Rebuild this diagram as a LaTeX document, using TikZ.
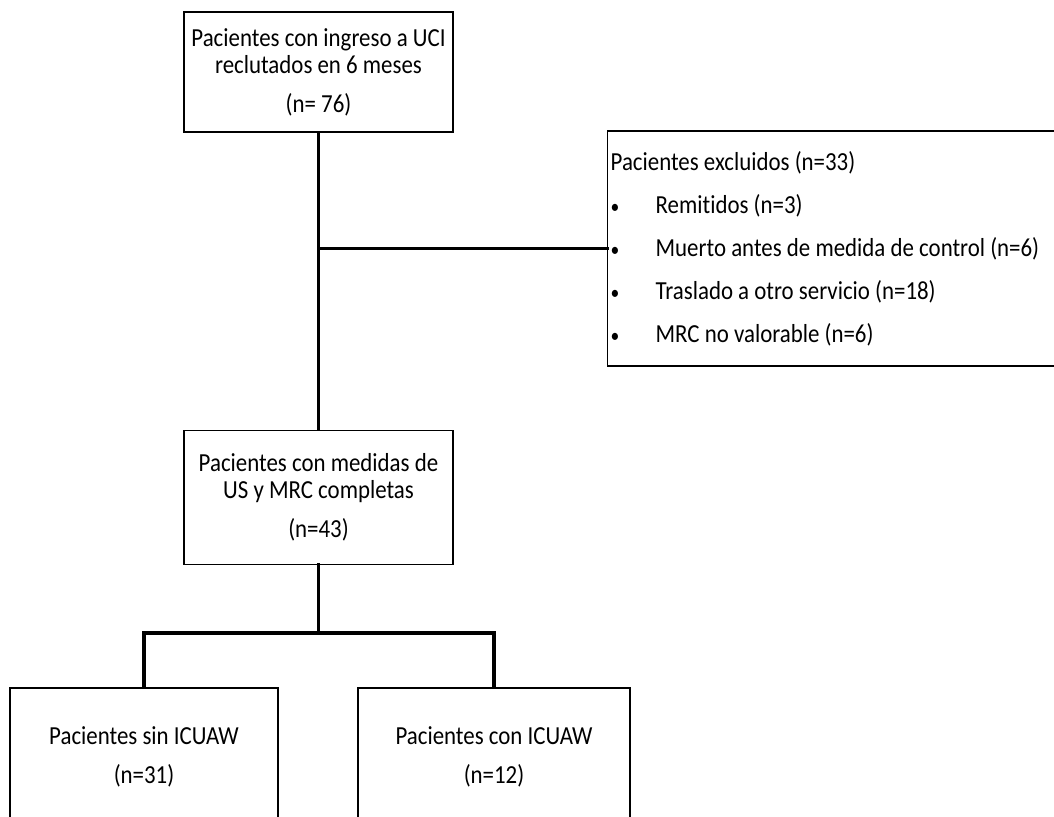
\documentclass[tikz,border=0pt]{standalone}
\usepackage{fontspec}
\setmainfont{Carlito}[FakeStretch=0.88, Ligatures=NoCommon]
\usetikzlibrary{positioning}
\tikzset{
  every picture/.style={
    line width=1.3pt
  },
  flowbox/.style={draw, rectangle, align=center, inner sep=0pt,
    font=\fontsize{26}{27}\selectfont},
  listbox/.style={draw, rectangle, align=flush left, inner xsep=3pt, inner ysep=0pt,
    font=\fontsize{26}{43}\selectfont},
  % thick connectors between the boxes
  link/.style={line width=3.6pt, line join=miter, line cap=rect}
}
\newcommand{\itemline}[1]{\makebox[45pt][l]{{\fontsize{20}{43}\selectfont •}}#1}

\begin{document}
\begin{tikzpicture}[x=1pt, y=-1pt]
  \clip (0,0) rectangle (1054,816);
  \node[flowbox, minimum width=269pt, minimum height=120pt] (recl) at (318.5,72)
    {Pacientes con ingreso a UCI\\ reclutados en 6 meses\\[12pt] (n= 76)};
  \node[flowbox, minimum width=269pt, minimum height=134pt, below=297pt of recl] (compl)
    {Pacientes con medidas de\\ US y MRC completas\\[12pt] (n=43)};
  \node[listbox, anchor=west, text width=449pt, minimum height=235pt] (excl) at (607,248.5)
    {Pacientes excluidos (n=33)\\
     \itemline{Remitidos (n=3)}\\
     \itemline{Muerto antes de medida de control (n=6)}\\
     \itemline{Traslado a otro servicio (n=18)}\\
     \itemline{MRC no valorable (n=6)}};
  \node[flowbox, minimum width=268pt, minimum height=138pt,
    font=\fontsize{26}{39}\selectfont] (sin) at (144,757)
    {Pacientes sin ICUAW\\ (n=31)};
  \node[flowbox, minimum width=272pt, minimum height=138pt,
    font=\fontsize{26}{39}\selectfont] (con) at (494,757)
    {Pacientes con ICUAW\\ (n=12)};

  \draw[link] (recl) -- (compl);
  \draw[link] (recl.south |- excl.west) -- (excl.west);
  \draw[link] (compl.south) -- ++(0,68) coordinate (fork);
  \draw[link] (sin.north) |- (fork) -| (con.north);
\end{tikzpicture}
\end{document}
